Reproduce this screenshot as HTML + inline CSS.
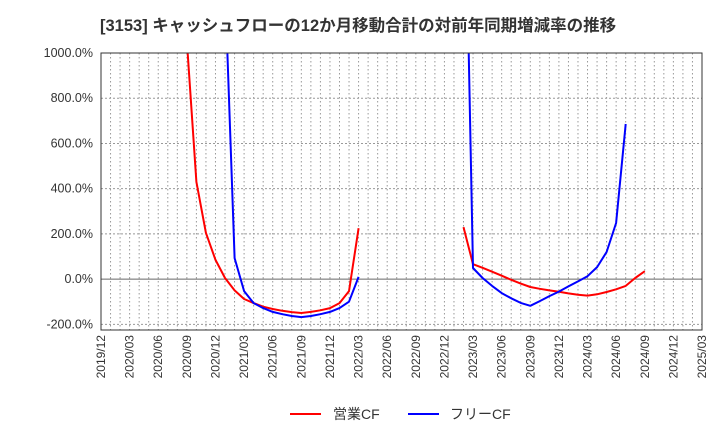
<!DOCTYPE html>
<html><head><meta charset="utf-8"><style>
body{margin:0;background:#fff;font-family:"Liberation Sans","Noto Sans CJK JP",sans-serif}
svg text{font-family:"Liberation Sans","Noto Sans CJK JP",sans-serif}
</style></head><body>
<svg id="c" width="720" height="440" xmlns="http://www.w3.org/2000/svg">
<text x="100" y="31" font-size="16.5" font-weight="bold" fill="#333">[3153]  キャッシュフローの12か月移動合計の対前年同期増減率の推移</text>
<defs><clipPath id="pc"><rect x="101" y="53" width="601" height="277"/></clipPath></defs>
<g id="grid"></g><g id="series" clip-path="url(#pc)"></g><g id="axes"></g>
<g>
<line x1="290" y1="414" x2="321" y2="414" stroke="#f00" stroke-width="2"/>
<text x="333" y="419" font-size="14" fill="#333">営業CF</text>
<line x1="408" y1="414" x2="439" y2="414" stroke="#00f" stroke-width="2"/>
<text x="450" y="419" font-size="14" fill="#333">フリーCF</text>
</g>
</svg>
<script>
const xTickLabels=["2019/12","2020/03","2020/06","2020/09","2020/12","2021/03","2021/06","2021/09","2021/12","2022/03","2022/06","2022/09","2022/12","2023/03","2023/06","2023/09","2023/12","2024/03","2024/06","2024/09","2024/12","2025/03"];
const yTicks=[-200,0,200,400,600,800,1000];
// month index from 2019/12, values in %
const redSeg1Start=9;
const redSeg1=[1050,430,205,85,5,-50,-88,-106,-122,-132,-140,-146,-150,-145,-138,-128,-106,-53,225];
const blueSeg1Start=13;
const blueSeg1=[1300,93,-53,-106,-128,-145,-155,-163,-168,-163,-155,-145,-128,-100,10];
const redSeg2Start=38;
const redSeg2=[230,66,50,33,15,-3,-20,-35,-43,-50,-56,-63,-69,-73,-67,-57,-45,-30,5,35];
const blueSeg2Start=38;
const blueSeg2=[2160,49,5,-30,-62,-85,-105,-118,-97,-75,-55,-32,-10,13,53,120,248,686];

const X0=101,X1=702,Y0=53,Y1=330,NM=63;
const xs=m=>X0+(X1-X0)*m/NM;
const ys=v=>Y0+(1000-v)*(Y1-Y0)/1225;
const NS="http://www.w3.org/2000/svg";
function mk(t,a,p){const e=document.createElementNS(NS,t);for(const k in a)e.setAttribute(k,a[k]);p.appendChild(e);return e;}
const grid=document.getElementById('grid'),axes=document.getElementById('axes'),ser=document.getElementById('series');
for(let m=1;m<NM;m++){const l=mk('line',{x1:xs(m),x2:xs(m),y1:Y0,y2:Y1,stroke:'#999','stroke-dasharray':'1.5,2.5','stroke-width':1},grid);

}
yTicks.forEach(v=>{const l=mk('line',{x1:X0,x2:X1,y1:ys(v),y2:ys(v),stroke:v===0?'#666':'#999','stroke-dasharray':v===0?'':'2,2','stroke-width':1},grid);


const t=mk('text',{x:93,y:ys(v)+4,'text-anchor':'end','font-size':12.5,fill:'#333'},axes);t.textContent=v.toFixed(1)+'%';

});
xTickLabels.forEach((s,i)=>{const x=xs(i*3);const t=mk('text',{x:0,y:0,'text-anchor':'end','font-size':12,fill:'#333',transform:`translate(${x+4},${Y1+5}) rotate(-90)`},axes);t.textContent=s;

});
const b=mk('rect',{x:X0,y:Y0,width:X1-X0,height:Y1-Y0,fill:'none',stroke:'#333','stroke-width':1},axes);


function line(start,vals,col,name){const p=vals.map((v,i)=>xs(start+i).toFixed(1)+','+ys(v).toFixed(1)).join(' ');
const e=mk('polyline',{points:p,fill:'none',stroke:col,'stroke-width':2,'stroke-linejoin':'round'},ser);

}
line(redSeg1Start,redSeg1,'#f00','operating-cf-line-1');
line(blueSeg1Start,blueSeg1,'#00f','free-cf-line-1');
line(redSeg2Start,redSeg2,'#f00','operating-cf-line-2');
line(blueSeg2Start,blueSeg2,'#00f','free-cf-line-2');
</script>
</body></html>
